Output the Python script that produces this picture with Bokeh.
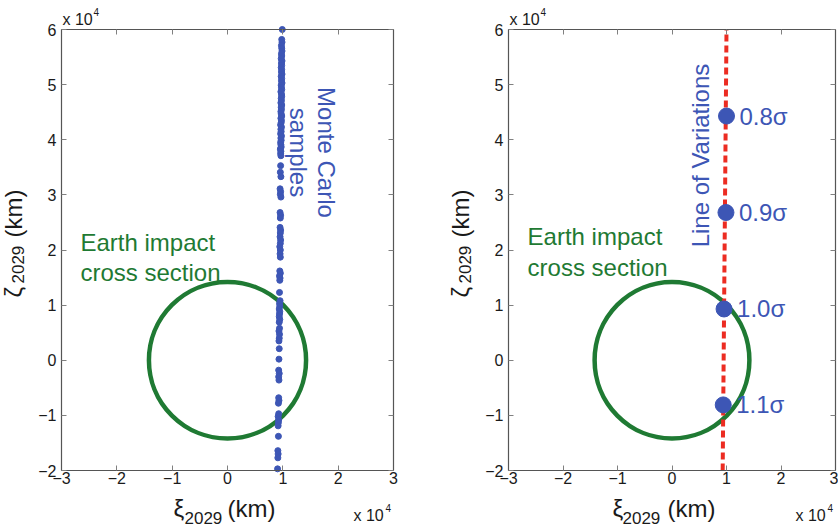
import math
from bokeh.plotting import figure
from bokeh.models import Label, LinearAxis, FixedTicker, ColumnDataSource, LabelSet, Range1d
from bokeh.layouts import row
from bokeh.embed import file_html
from bokeh.resources import INLINE
from bokeh.core.properties import value

# ---------------- data ----------------
x_ticks = [-3, -2, -1, 0, 1, 2, 3]
y_ticks = [-2, -1, 0, 1, 2, 3, 4, 5, 6]
x_tick_labels = ["\u22123", "\u22122", "\u22121", "0", "1", "2", "3"]
y_tick_labels = ["\u22122", "\u22121", "0", "1", "2", "3", "4", "5", "6"]
x_lim = (-3, 3)
y_lim = (-2, 6)

earth_radius = 1.42  # x 10^4 km

mc_y = [6.00, 5.82, 5.77, 5.71, 5.66, 5.61, 5.56, 5.52, 5.47, 5.43, 5.39, 5.35,
        5.31, 5.27, 5.23, 5.19, 5.15, 5.11, 5.07, 5.03, 4.99, 4.95, 4.91, 4.87,
        4.83, 4.79, 4.75, 4.71, 4.67, 4.63, 4.59, 4.55, 4.51, 4.47, 4.43, 4.39,
        4.35, 4.31, 4.27, 4.23, 4.19, 4.15, 4.11, 4.07, 4.03, 3.99, 3.95, 3.91,
        3.87, 3.83, 3.79, 3.75, 3.71, 3.53, 3.41, 3.33, 3.11, 3.06, 3.01, 2.96,
        2.68, 2.63, 2.58, 2.41, 2.36, 2.31, 2.24, 2.18, 2.12, 2.06, 2.00, 1.93,
        1.87, 1.62, 1.58, 1.53, 1.49, 1.45, 1.23, 1.08, 1.03, 0.98, 0.93, 0.88,
        0.84, 0.79, 0.74, 0.69, 0.58, 0.53, 0.47, 0.40, 0.35, 0.21, 0.02, -0.18,
        -0.24, -0.30, -0.36, -0.68, -0.73, -0.78, -0.97, -1.02, -1.08, -1.13,
        -1.19, -1.38, -1.64, -1.70, -1.77, -1.97]
mc_x = [0.990, 0.980, 0.985, 0.975, 0.980, 0.985, 0.975, 0.980, 0.970, 0.985, 0.975, 0.980,
        0.970, 0.980, 0.975, 0.985, 0.970, 0.980, 0.975, 0.985, 0.970, 0.975, 0.980, 0.965,
        0.975, 0.980, 0.970, 0.975, 0.965, 0.980, 0.970, 0.975, 0.965, 0.970, 0.980, 0.965,
        0.975, 0.970, 0.960, 0.975, 0.965, 0.970, 0.960, 0.975, 0.965, 0.970, 0.960, 0.965,
        0.970, 0.955, 0.965, 0.960, 0.965, 0.960, 0.955, 0.965, 0.950, 0.960, 0.955, 0.965,
        0.950, 0.960, 0.955, 0.950, 0.960, 0.955, 0.950, 0.960, 0.955, 0.945, 0.955, 0.950,
        0.955, 0.945, 0.955, 0.940, 0.950, 0.945, 0.940, 0.950, 0.940, 0.945, 0.935, 0.945,
        0.940, 0.935, 0.945, 0.935, 0.940, 0.930, 0.940, 0.935, 0.930, 0.935, 0.930, 0.925,
        0.935, 0.925, 0.930, 0.925, 0.930, 0.920, 0.925, 0.915, 0.925, 0.920,
        0.915, 0.920, 0.910, 0.915, 0.910, 0.905]

lov_x = [0.93, 1.00]
lov_y = [-2.0, 6.0]

sigma_labels = ["0.8\u03c3", "0.9\u03c3", "1.0\u03c3", "1.1\u03c3"]
sigma_x = [1.00, 0.99, 0.955, 0.94]
sigma_y = [4.43, 2.68, 0.93, -0.81]

# ---------------- style ----------------
FONT = "Liberation Sans"
BLUE = "#3d56b5"
GREEN = "#1f7a33"
RED = "#ec2c22"
AXIS = "#555555"
TICK = "#808080"
LABEL = "#1a1a1a"
H = 526
BOX_TOP = 29
BOX_H = 441


def make_fig(width, box_left, box_w):
    # the frame covers the whole figure; the data box sits inside it
    sx = box_w / (x_lim[1] - x_lim[0])
    sy = BOX_H / (y_lim[1] - y_lim[0])
    xr = Range1d(x_lim[0] - box_left / sx, x_lim[1] + (width - box_left - box_w) / sx)
    yr = Range1d(y_lim[0] - (H - BOX_TOP - BOX_H) / sy, y_lim[1] + BOX_TOP / sy)
    p = figure(width=width, height=H, x_range=xr, y_range=yr,
               min_border=0, min_border_left=0, min_border_right=0,
               min_border_top=0, min_border_bottom=0,
               x_axis_location=None, y_axis_location=None,
               output_backend="svg", toolbar_location=None,
               background_fill_color="white", border_fill_color="white")
    p.outline_line_color = None
    p.xgrid.visible = False
    p.ygrid.visible = False

    ox = {t: s for t, s in zip(x_ticks, x_tick_labels)}
    oy = {t: s for t, s in zip(y_ticks, y_tick_labels)}
    bottom = LinearAxis(fixed_location=y_lim[0], bounds=x_lim,
                        ticker=FixedTicker(ticks=x_ticks), major_label_overrides=ox)
    top = LinearAxis(fixed_location=y_lim[1], bounds=x_lim,
                     ticker=FixedTicker(ticks=x_ticks),
                     major_label_overrides={t: "" for t in x_ticks})
    left = LinearAxis(fixed_location=x_lim[0], bounds=y_lim,
                      ticker=FixedTicker(ticks=y_ticks), major_label_overrides=oy)
    right = LinearAxis(fixed_location=x_lim[1], bounds=y_lim,
                       ticker=FixedTicker(ticks=y_ticks),
                       major_label_overrides={t: "" for t in y_ticks})
    p.add_layout(bottom, "below")
    p.add_layout(top, "above")
    p.add_layout(left, "left")
    p.add_layout(right, "right")
    for ax in (bottom, top, left, right):
        ax.axis_line_color = AXIS
        ax.axis_line_width = 1.2
        ax.major_tick_line_color = TICK
        ax.major_tick_in = 5
        ax.major_tick_out = 0
        ax.minor_tick_line_color = None
        ax.major_label_text_font = FONT
        ax.major_label_text_color = LABEL
        ax.major_label_text_font_size = "16px"
    bottom.major_label_standoff = 1
    left.major_label_standoff = 5
    return p


def add_text(p, text, x, y, xo=0, yo=0, size=24, color=LABEL, angle=0.0,
             align="left"):
    p.add_layout(Label(x=x, y=y, x_offset=xo, y_offset=yo, text=text,
                       text_font=FONT, text_font_size=f"{size}px",
                       text_color=color, angle=angle, text_align=align,
                       text_baseline="middle"))


def add_frame_texts(p, xl, fw):
    x0, y0 = x_lim[0], y_lim[0]
    # y axis label, rotated, anchored at the data box's bottom-left corner
    add_text(p, "\u03b6", x0, y0, xo=-48, yo=173, angle=math.pi / 2)
    add_text(p, "2029", x0, y0, xo=-44, yo=187, size=17, angle=math.pi / 2)
    add_text(p, "(km)", x0, y0, xo=-48, yo=233, angle=math.pi / 2)
    # x axis label
    add_text(p, "\u03be", x0, y0, xo=xl[0], yo=-38)
    add_text(p, "2029", x0, y0, xo=xl[1], yo=-47, size=17)
    add_text(p, "(km)", x0, y0, xo=xl[2], yo=-38)
    # exponent marks
    add_text(p, "x 10", x0, y0, xo=1, yo=451, size=16)
    add_text(p, "4", x0, y0, xo=32, yo=459, size=10)
    add_text(p, "x 10", x0, y0, xo=fw - 40, yo=-45, size=16)
    add_text(p, "4", x0, y0, xo=fw - 8, yo=-37, size=10)


# ---------------- left panel ----------------
p1 = make_fig(420, 61, 332)
p1.ellipse(x=[0], y=[0], width=[2 * earth_radius], height=[2 * earth_radius],
           fill_color=None, line_color=GREEN, line_width=4.5)
p1.scatter(x=mc_x, y=mc_y, size=6, color=BLUE, line_color=BLUE)
add_text(p1, "Earth impact", -2.657, 2.145, color=GREEN)
add_text(p1, "cross section", -2.657, 1.60, color=GREEN)
add_text(p1, "Monte Carlo", 1.789, 3.769, color=BLUE, angle=-math.pi / 2,
         align="center")
add_text(p1, "samples", 1.283, 3.769, color=BLUE, angle=-math.pi / 2,
         align="center")
add_frame_texts(p1, (112, 123, 166), 332)

# ---------------- right panel ----------------
p2 = make_fig(418, 88, 327)
p2.ellipse(x=[0], y=[0], width=[2 * earth_radius], height=[2 * earth_radius],
           fill_color=None, line_color=GREEN, line_width=4.5)
p2.line(x=lov_x, y=lov_y, line_color=RED, line_width=4, line_dash="7 4")
src = ColumnDataSource(dict(x=sigma_x, y=sigma_y, t=sigma_labels))
p2.scatter(x="x", y="y", source=src, size=16, color=BLUE)
p2.add_layout(LabelSet(x="x", y="y", text="t", source=src, x_offset=13,
                       text_font=value(FONT), text_font_size=value("24px"),
                       text_color=BLUE, text_baseline="middle", text_align="left"))
add_text(p2, "Earth impact", -2.65, 2.25, color=GREEN)
add_text(p2, "cross section", -2.65, 1.69, color=GREEN)
add_text(p2, "Line of Variations", 0.53, 3.714, color=BLUE, angle=math.pi / 2,
         align="center")
add_frame_texts(p2, (104, 114, 159), 327)

layout = row(p1, p2)
open("out.html", "w").write(file_html(layout, INLINE))
